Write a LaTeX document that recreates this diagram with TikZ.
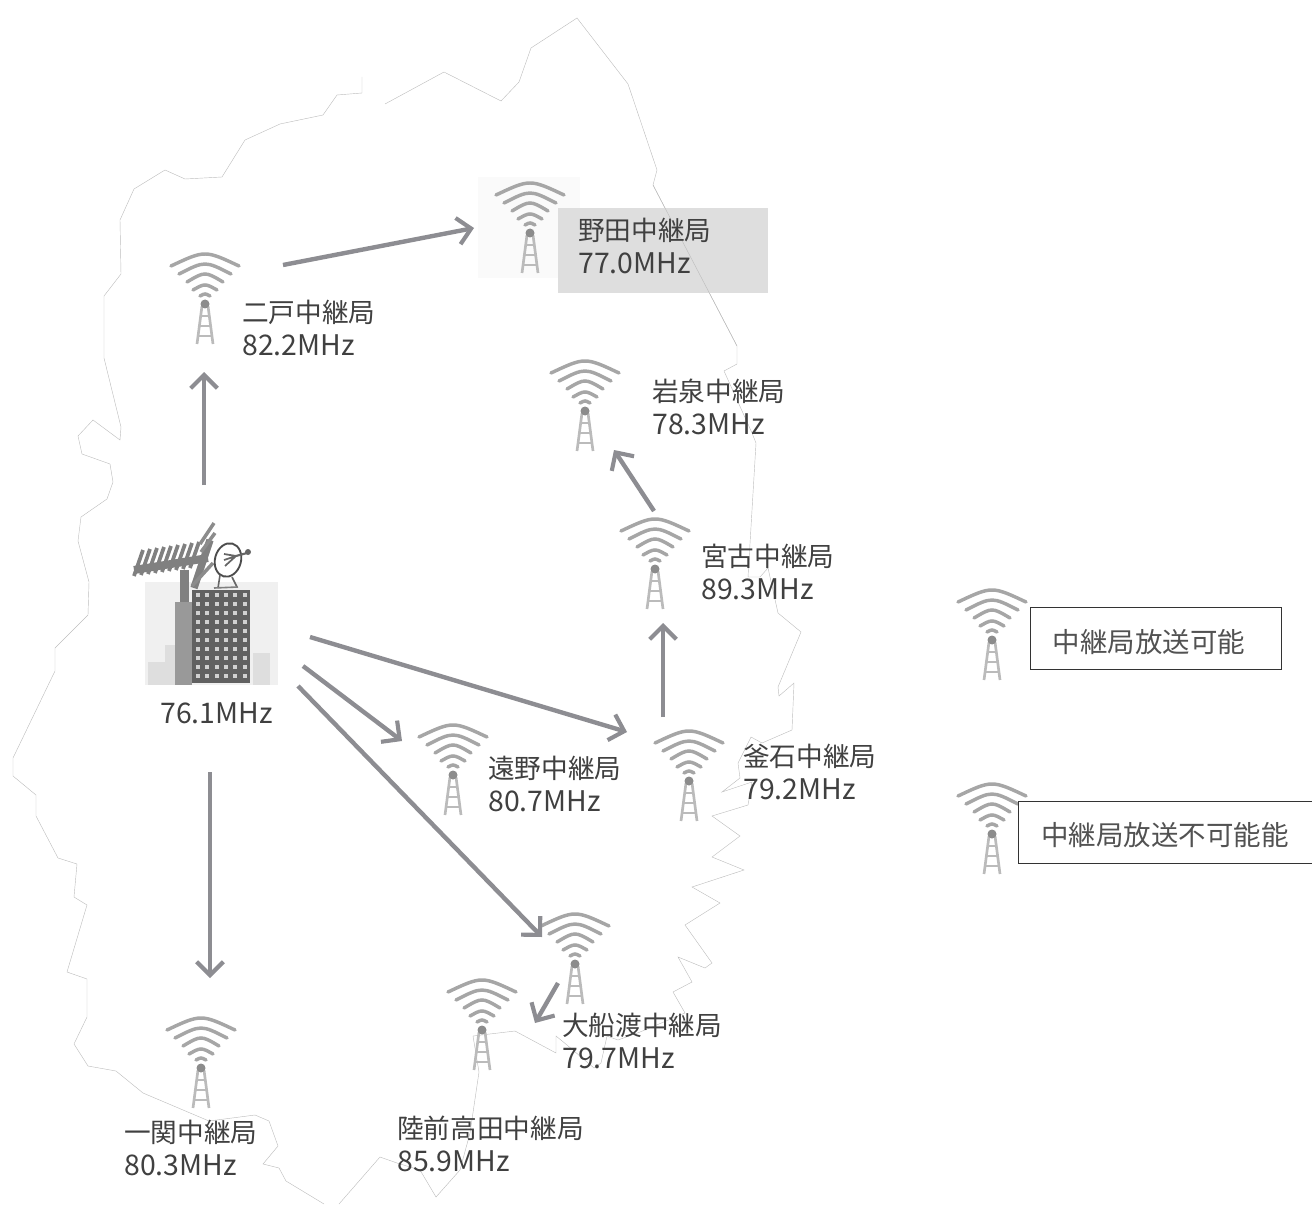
\documentclass[tikz,border=0pt]{standalone}
\usepackage{fontspec}
\setmainfont{Noto Sans CJK JP}
\usepackage{tikz}
\usetikzlibrary{arrows.meta}
\definecolor{linkgray}{HTML}{8D8D92}
\definecolor{textgray}{HTML}{404040}
\definecolor{wavegray}{HTML}{A6A6A6}
\definecolor{mastgray}{HTML}{BBBBBB}
\newcommand{\mhz}[1]{{\fontsize{21.3}{24.75}\selectfont #1}}
\tikzset{outline/.style={draw=black!26, line width=0.32pt, line join=miter}}
\tikzset{link/.style={draw=linkgray, line width=3.3pt, -{Straight Barb[length=10pt,width=20pt,line width=3.1pt]}}}
\tikzset{station/.style={anchor=west, align=left, text=textgray, font=\fontsize{20}{24.75}\selectfont}}
\tikzset{legendbox/.style={draw=black!80, line width=0.7pt, fill=white}}
\tikzset{tower/.pic={
	\draw[wavegray, line width=2.6pt, line cap=round] (-34,12) .. controls (0,-4) .. (34,12);
	\draw[wavegray, line width=2.6pt, line cap=round] (-26,20) .. controls (0,6.7) .. (26,20);
	\draw[wavegray, line width=2.6pt, line cap=round] (-18,28) .. controls (0,17.3) .. (18,28);
	\draw[wavegray, line width=2.6pt, line cap=round] (-12,36) .. controls (0,29.3) .. (12,36);
	\draw[wavegray, line width=2.6pt, line cap=round] (-5,42) .. controls (0,39.3) .. (5,42);
	\draw[mastgray, line width=2pt] (-3,52) -- (-8,90);
	\draw[mastgray, line width=2pt] (3,52) -- (8,90);
	\draw[mastgray, line width=1.8pt] (-5,62) -- (5,62);
	\draw[mastgray, line width=1.8pt] (-6,72) -- (6,72);
	\draw[mastgray, line width=1.8pt] (-7,82) -- (7,82);
	\fill[black!45] (0,50) circle (4.5);
}}

\begin{document}
\begin{tikzpicture}[x=0.75pt, y=-0.75pt]
	% Default action for each node
	\tikzstyle{every node}=[inner sep=0pt];
	\useasboundingbox (0,0) rectangle (1312,1205);

	% Coast and border
	\draw[outline] (385,104) -- (444,72) -- (501,101) -- (519,82) -- (531,48) -- (577,18) -- (628,84) -- (657,170) -- (653,185)
		-- (737,346) -- (737,364) -- (724,371) -- (752,433) -- (756,443) -- (748,577) -- (760,577) -- (768,568) -- (778,613)
		-- (801,632) -- (778,687) -- (779,696) -- (794,683) -- (792,730) -- (762,743) -- (751,737) -- (738,763) -- (740,778)
		-- (722,792) -- (752,782) -- (748,805) -- (712,816) -- (740,836) -- (712,857) -- (744,870) -- (692,887) -- (720,903)
		-- (685,925) -- (712,963) -- (705,968) -- (678,957) -- (692,982) -- (673,992) -- (685,1013) -- (640,1032) -- (618,1040)
		-- (607,1036) -- (601,1063) -- (594,1068) -- (567,1045) -- (556,1036) -- (556,1053) -- (515,1031) -- (473,1036)
		-- (479,1072) -- (470,1133) -- (460,1170) -- (436,1197) -- (420,1170) -- (397,1163) -- (380,1157) -- (339,1204);
	\draw[outline] (324,1204) -- (286,1181) -- (279,1168) -- (263,1164) -- (278,1146) -- (269,1121) -- (255,1115) -- (209,1121)
		-- (143,1093) -- (116,1071) -- (88,1066) -- (74,1044) -- (87,1017) -- (87,979) -- (67,972) -- (87,905) -- (74,897)
		-- (77,864) -- (58,858) -- (36,816) -- (36,795) -- (13,776) -- (13,758) -- (55,671) -- (55,648) -- (88,615) -- (89,582)
		-- (78,541) -- (81,517) -- (107,499) -- (113,482) -- (110,464) -- (82,454) -- (78,436) -- (93,420) -- (120,440)
		-- (121,427) -- (104,358) -- (104,296) -- (121,274) -- (120,220) -- (134,189) -- (165,170) -- (185,179) -- (222,177)
		-- (245,140) -- (280,124) -- (323,115) -- (337,95) -- (362,93) -- (362,77);

	% Noda highlight
	\fill[black!2] (478,177) rectangle (580,278);
	\node[fill=black!13, minimum width=157.5pt, minimum height=63.75pt, anchor=north west] (nodabox) at (558,208) {};
	\draw[outline] (653,185) -- (737,346);

	% Towers
	\pic (ninohe) at (205,254) {tower};
	\pic (noda) at (530,183) {tower};
	\pic (iwaizumi) at (585,361) {tower};
	\pic (miyako) at (655,519) {tower};
	\pic (tono) at (453,725) {tower};
	\pic (kamaishi) at (689,731) {tower};
	\pic (ofunato) at (575,914) {tower};
	\pic (rikuzen) at (482,980) {tower};
	\pic (ichinoseki) at (201,1018) {tower};
	\pic (legendok) at (992,590) {tower};
	\pic (legendng) at (992,784) {tower};

	% Labels
	\node[station] (ninohe label) at (242,328) {二戸中継局\\\mhz{82.2MHz}};
	\node[station] (noda label) at (578,246) {野田中継局\\\mhz{77.0MHz}};
	\node[station] (iwaizumi label) at (652,407) {岩泉中継局\\\mhz{78.3MHz}};
	\node[station] (miyako label) at (701,572) {宮古中継局\\\mhz{89.3MHz}};
	\node[station] (tono label) at (488,784) {遠野中継局\\\mhz{80.7MHz}};
	\node[station] (kamaishi label) at (743,772) {釜石中継局\\\mhz{79.2MHz}};
	\node[station] (ofunato label) at (562,1041) {大船渡中継局\\\mhz{79.7MHz}};
	\node[station] (rikuzen label) at (397,1144) {陸前高田中継局\\\mhz{85.9MHz}};
	\node[station] (ichinoseki label) at (124,1148) {一関中継局\\\mhz{80.3MHz}};
	\node[station] (morioka label) at (160,713) {\mhz{76.1MHz}};

	% Legend
	\node[legendbox, minimum width=188.25pt, minimum height=46.5pt, anchor=north west] (legendok box) at (1030,607) {};
	\node[legendbox, minimum width=225pt, minimum height=46.5pt, anchor=north west] (legendng box) at (1018,801) {};
	\node[text=black!68, font=\fontsize{20.6}{24}\selectfont] (legendok text) at (1149,642) {中継局放送可能};
	\node[text=black!68, font=\fontsize{20.6}{24}\selectfont] (legendng text) at (1165,835) {中継局放送不可能能};

	% Building
	\fill[black!6] (145,582) rectangle (278,685);
	\fill[black!13] (148,662) rectangle (165,685);
	\fill[black!13] (165,645) rectangle (175,685);
	\fill[black!13] (253,653) rectangle (270,685);
	\fill[black!40] (175,602) rectangle (192,685);
	\fill[black!50] (180,570) rectangle (189,602);
	\fill[black!62] (192,590) rectangle (250,683);
	\foreach \col in {0,...,5}
		\foreach \row in {0,...,9}
			\fill[black!18] (196+9.3*\col,593+9*\row) rectangle +(4,4);

	% Antenna
	\draw[black!50, line width=6pt] (134,570) -- (208,558);
	\foreach \rod in {0,...,8}
		\draw[black!50, line width=2.8pt] (143+7*\rod,550-1*\rod) -- (134+7*\rod,576-1*\rod);
	\draw[black!50, line width=5.5pt] (210,540) -- (194,588);
	\draw[black!45, line width=2.6pt] (214,523) -- (200,544);
	\draw[black!45, line width=2.6pt] (215,533) -- (201,552);
	\draw[black!45, line width=2.6pt] (213,563) -- (192,586);

	% Dish
	\draw[black!70, line width=1.4pt, fill=white, rotate around={-15:(228,560)}] (228,560) ellipse (13 and 17);
	\draw[black!60, line width=1.3pt] (224,554) -- (236,556) (224,560) -- (236,556) (225,566) -- (236,556);
	\draw[black!60, line width=1.6pt] (236,556) -- (247,553);
	\fill[black!60] (248,552) circle (3);
	\draw[black!60, line width=1.2pt] (220,575) -- (218,588);
	\draw[black!60, line width=1.2pt] (232,577) -- (237,587);
	\draw[black!50, line width=1.2pt] (214,588) -- (238,587);

	% Arrow ends
	\coordinate (ninohe in) at (204,372);		\coordinate (base north) at (204,485);
	\coordinate (noda in) at (474,228);			\coordinate (ninohe out) at (283,265);
	\coordinate (iwaizumi in) at (614,450);		\coordinate (miyako out) at (654,511);
	\coordinate (miyako in) at (663,623);		\coordinate (kamaishi out) at (663,717);
	\coordinate (kamaishi in) at (627,732);		\coordinate (base east) at (310,637);
	\coordinate (tono in) at (402,741);			\coordinate (base mid) at (303,666);
	\coordinate (ofunato in) at (542,937);		\coordinate (base south) at (298,686);
	\coordinate (rikuzen in) at (535,1023);		\coordinate (ofunato out) at (558,983);
	\coordinate (ichinoseki in) at (210,978);	\coordinate (base down) at (210,772);

	% Arrows
	\draw[link] (base north) -- (ninohe in);
	\draw[link] (ninohe out) -- (noda in);
	\draw[link] (miyako out) -- (iwaizumi in);
	\draw[link] (kamaishi out) -- (miyako in);
	\draw[link] (base east) -- (kamaishi in);
	\draw[link] (base mid) -- (tono in);
	\draw[link] (base south) -- (ofunato in);
	\draw[link] (ofunato out) -- (rikuzen in);
	\draw[link] (base down) -- (ichinoseki in);
\end{tikzpicture}
\end{document}
